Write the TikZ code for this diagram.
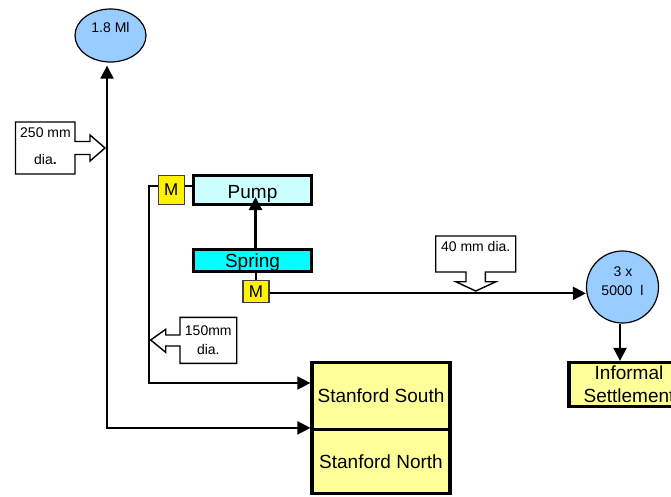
\documentclass[tikz,border=0pt]{standalone}
\usepackage{fontspec}
\setmainfont{Liberation Sans}
\usepackage{xcolor}
\usetikzlibrary{arrows.meta,positioning,shapes.geometric}
\definecolor{tankblue}{HTML}{99CCFF}
\definecolor{pumpcyan}{HTML}{CCFFFF}
\definecolor{springcyan}{HTML}{00FFFF}
\definecolor{placeyellow}{HTML}{FFFF99}

\begin{document}
\begin{tikzpicture}[
  x=1pt,y=-1pt,
  >={Triangle[length=13pt,width=13pt]},
  every node/.style={font=\fontsize{19}{23}\selectfont,inner sep=0pt},
  small/.style={font=\fontsize{14}{19}\selectfont,align=center},
  tnode/.style={draw,fill=tankblue,line width=1.2pt},
  enode/.style={draw,fill=#1,line width=3pt,minimum width=118.6pt},
  pnode/.style={draw,fill=placeyellow,line width=3.2pt,minimum width=138pt,align=center},
  mnode/.style={draw=black!75,fill=yellow,line width=1.2pt,minimum width=26pt,font=\fontsize{17}{20}\selectfont},
  pipe/.style={line width=2.1pt},
  thinpipe/.style={line width=1.5pt},
  dianote/.style={draw,fill=white,line width=1.4pt}
]
\useasboundingbox (0,0) rectangle (671,496);
\clip (0,0) rectangle (671,496);

% ---- tanks ----
\node[tnode,ellipse,minimum width=71pt,minimum height=53pt] (res) at (110.5,35.5) {};
\node[small,yshift=8.5pt] (reslabel) at (res) {1.8 Ml};
\node[tnode,circle,minimum size=72pt] (tank) at (622.5,287) {};
\node[small,yshift=5.5pt] (tanklabel) at (tank) {\hspace*{1pt}3 x\\5000\ \ l};

% ---- pump station ----
\node[enode=pumpcyan,minimum height=29pt,text height=21pt] (pump) at (252.5,189.5) {Pump};
\node[enode=springcyan,minimum height=22pt,text height=17.5pt] (spring) at (252.5,260.8) {Spring};
\node[mnode,minimum height=29pt] (mpump) at (171.25,189.75) {M};
\node[mnode,minimum height=22.5pt] (mspring) at (256,291.35) {M};

% ---- supply areas ----
\node[pnode,minimum height=66.6pt] (south) at (381,396) {Stanford South};
\node[pnode,minimum height=64pt] (north) at (381,461.5) {Stanford North};
\node[pnode,minimum width=120pt,minimum height=44pt] (informal) at (629,384.5) {Informal\\Settlement};

% ---- pipes ----
\coordinate (trunk) at (107,430);
\coordinate (branch) at (149,383);
\coordinate (pumpin) at (255.5,197);
\draw[pipe,<->,shorten <=3pt] (res.south -| trunk) |- (north.north west);
\draw[thinpipe] ([yshift=4pt]mpump.east) -- ([yshift=4pt]mpump.east -| pump.west);
\draw[thinpipe,->] ([yshift=4pt]mpump.west) -| (branch) -- (branch -| south.west);
\draw[pipe,->] (pumpin |- spring.north) -- (pumpin);
\draw[thinpipe] (mspring.north) -- (mspring.north |- spring.south);
\draw[pipe,->] ([yshift=-2pt]mspring.east) -- ([yshift=-2pt]mspring.east -| tank.west);
\draw[pipe,->] (tank.south -| 620,0) -- (informal.north -| 620,0);

% ---- pipe size notes ----
\draw[dianote] (15.5,122) -- (75,122) -- (75,141.5) -- (90,141.5) -- (90,135) -- (105,148)
  -- (90,161) -- (90,154.5) -- (75,154.5) -- (75,174) -- (15.5,174) -- cycle;
\node[small] (note250) at (45.5,132.5) {250 mm};
\node[small] (dia250) at (45.5,159.5) {dia\textbf{.}};

\draw[dianote] (180,317.3) -- (236.7,317.3) -- (236.7,363.3) -- (180,363.3) -- (180,346)
  -- (165.7,346) -- (165.7,352.3) -- (150.7,340) -- (165.7,329.3) -- (165.7,335) -- (180,335) -- cycle;
\node[small] (note150) at (208.3,340) {150mm\\dia.};

\draw[dianote] (435.7,236) -- (515.7,236) -- (515.7,272) -- (485.3,272) -- (485.3,281.7)
  -- (496,281.7) -- (475.7,291) -- (455.7,281.7) -- (466,281.7) -- (466,272) -- (435.7,272) -- cycle;
\node[small] (note40) at (475.7,246) {40 mm dia.};

\end{tikzpicture}
\end{document}
